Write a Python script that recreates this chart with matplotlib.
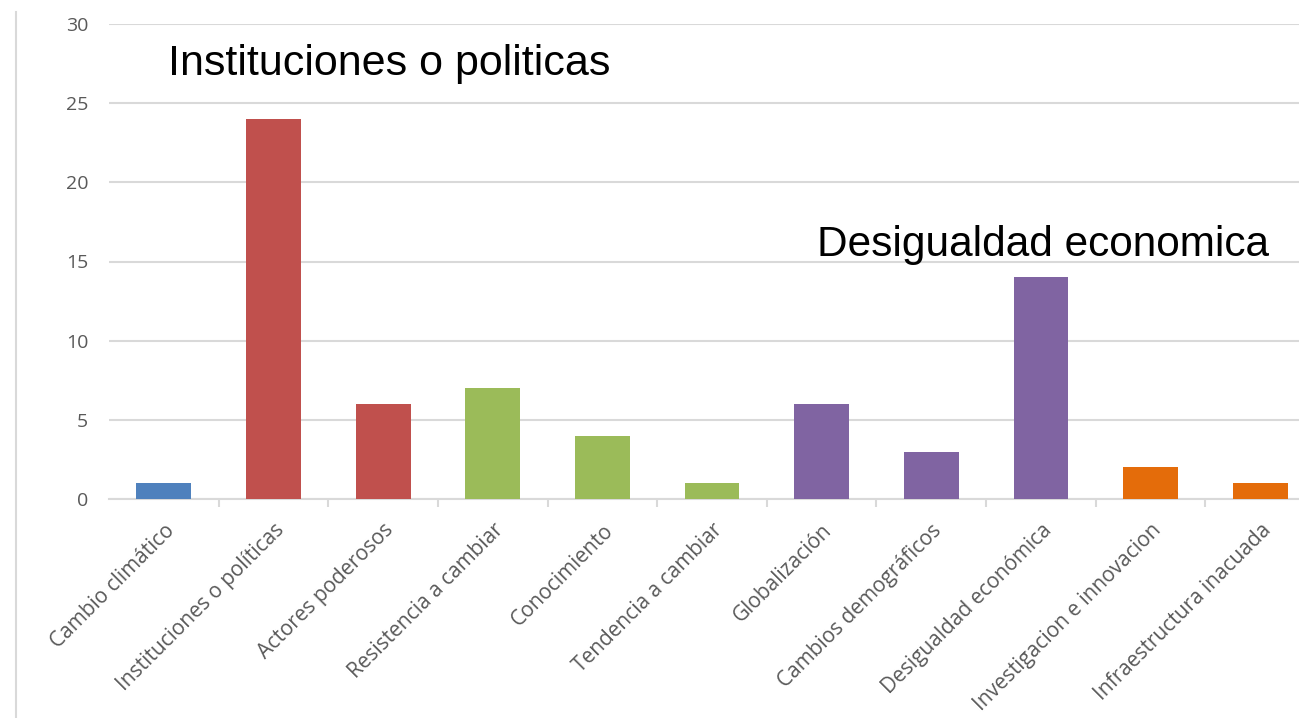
import numpy as np
import matplotlib.pyplot as plt
from matplotlib.lines import Line2D

categorias = ["Cambio climático", "Instituciones o políticas", "Actores poderosos",
              "Resistencia a cambiar", "Conocimiento", "Tendencia a cambiar",
              "Globalización", "Cambios demográficos", "Desigualdad económica",
              "Investigacion e innovacion", "Infraestructura inacuada"]
valores = [1, 24, 6, 7, 4, 1, 6, 3, 14, 2, 1]
colores = ["#4F81BD", "#C0504D", "#C0504D", "#9BBB59", "#9BBB59", "#9BBB59",
           "#8064A2", "#8064A2", "#8064A2", "#E46C0A", "#E46C0A"]
y_ticks = [0, 5, 10, 15, 20, 25, 30]

W, H = 1299, 718
fig = plt.figure(figsize=(W / 100, H / 100), dpi=100)
# el area del grafico sale un poco por la derecha, como en el original
ax = fig.add_axes([109 / W, 1 - 499 / H, (1315 - 109) / W, (499 - 24) / H])

x = np.arange(len(categorias))
ax.bar(x, valores, width=0.5, color=colores, zorder=3)

ax.set_xlim(-0.5, len(categorias) - 0.5)
ax.set_ylim(0, 30)
ax.set_yticks(y_ticks)
ax.yaxis.grid(True, color="#D9D9D9", linewidth=1.5, zorder=0)

for s in ["top", "right", "left"]:
    ax.spines[s].set_visible(False)
ax.spines["bottom"].set_color("#D9D9D9")
ax.spines["bottom"].set_linewidth(1.5)

ax.set_xticks(x + 0.5, minor=True)
ax.set_xticks(x)
ax.set_xticklabels(categorias, rotation=45, ha="right", rotation_mode="anchor",
                   fontsize=15, color="#595959", family="Open Sans")
ax.tick_params(axis="x", which="major", length=0, pad=15)
ax.tick_params(axis="x", which="minor", length=6, width=1.5, color="#D9D9D9")
ax.tick_params(axis="y", length=0, pad=15, labelsize=14, labelcolor="#595959")
for t in ax.get_yticklabels():
    t.set_family("Open Sans")

# anotaciones
fig.text(168 / W, 1 - 75 / H, "Instituciones o politicas", fontsize=31,
         family="Liberation Sans", va="baseline", ha="left")
fig.text(817 / W, 1 - 256 / H, "Desigualdad economica", fontsize=30.5,
         family="Liberation Sans", va="baseline", ha="left")

# linea del borde izquierdo
fig.add_artist(Line2D([16 / W, 16 / W], [0, 1 - 12 / H], color="#D9D9D9", linewidth=1.5))

fig.savefig("out.png", dpi=100)
